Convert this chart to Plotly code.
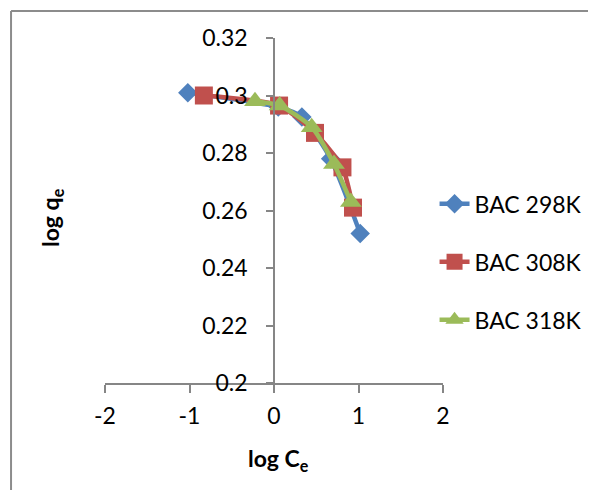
import plotly.graph_objects as go

# Data
x_298 = [-1.02, 0.05, 0.33, 0.67, 1.02]
y_298 = [0.301, 0.296, 0.2925, 0.278, 0.252]

x_308 = [-0.83, 0.06, 0.485, 0.81, 0.935]
y_308 = [0.300, 0.2965, 0.287, 0.275, 0.261]

x_318 = [-0.225, 0.067, 0.446, 0.71, 0.91]
y_318 = [0.298, 0.2965, 0.289, 0.2762, 0.263]

names = ["BAC 298K", "BAC 308K", "BAC 318K"]
colors = ["#4F81BD", "#C0504D", "#9BBB59"]
symbols = ["diamond", "square", "triangle-up"]
sizes = [15, 18, 19]

x_ticks = [-2, -1, 0, 1, 2]
y_ticks = [0.2, 0.22, 0.24, 0.26, 0.28, 0.3, 0.32]
y_tick_text = ["0.2", "0.22", "0.24", "0.26", "0.28", "0.3", "0.32"]

FONT = "Lato"
FS = 23

fig = go.Figure()
for i, (xs, ys) in enumerate([(x_298, y_298), (x_308, y_308), (x_318, y_318)]):
    fig.add_trace(go.Scatter(
        x=xs, y=ys, name=names[i], mode="lines+markers",
        line=dict(color=colors[i], width=4.5, shape="spline", smoothing=0.6),
        marker=dict(symbol=symbols[i], size=sizes[i], color=colors[i]),
        legendgroup=names[i],
    ))

fig.update_layout(
    width=596, height=490,
    margin=dict(l=97, r=161, t=30, b=115, autoexpand=False),
    paper_bgcolor="white", plot_bgcolor="white",
    font=dict(family=FONT, size=FS, color="black"),
    showlegend=True,
    legend=dict(x=0.975, y=0.351, xanchor="left", yanchor="middle",
                font=dict(family=FONT, size=FS, color="black"),
                tracegroupgap=25, bgcolor="rgba(0,0,0,0)"),
    xaxis=dict(range=[-2, 2], tickvals=x_ticks, ticktext=[str(v) for v in x_ticks],
               showgrid=False, zeroline=False, showline=True, linecolor="#868686",
               linewidth=1.5, ticks="outside", ticklen=8, tickcolor="#868686",
               tickwidth=1.5, tickfont=dict(size=FS), ticklabelstandoff=4,
               anchor="y"),
    yaxis=dict(range=[0.2, 0.32], tickvals=y_ticks, ticktext=y_tick_text,
               showgrid=False, zeroline=False, showline=True, linecolor="#868686",
               linewidth=1.5, ticks="outside", ticklen=7, tickcolor="#868686",
               tickwidth=1.5, tickfont=dict(size=FS), ticklabelstandoff=14,
               anchor="free", position=0.5),
    annotations=[
        dict(text="<b>log C<sub>e</sub></b>", xref="paper", yref="paper",
             x=0.512, y=-0.223, xanchor="center", yanchor="middle", showarrow=False,
             font=dict(family=FONT, size=FS)),
        dict(text="<b>log q<sub>e</sub></b>", xref="paper", yref="paper",
             x=-0.16, y=0.481, xanchor="center", yanchor="middle", showarrow=False,
             textangle=-90, font=dict(family=FONT, size=FS)),
    ],
    shapes=[
        dict(type="line", xref="paper", yref="paper", x0=-0.278, x1=2, y0=1.078, y1=1.078,
             line=dict(color="#8C8C8C", width=2)),
        dict(type="line", xref="paper", yref="paper", x0=-0.278, x1=-0.278, y0=1.078, y1=-1,
             line=dict(color="#8C8C8C", width=2)),
    ],
)

fig.write_html("out.html")
